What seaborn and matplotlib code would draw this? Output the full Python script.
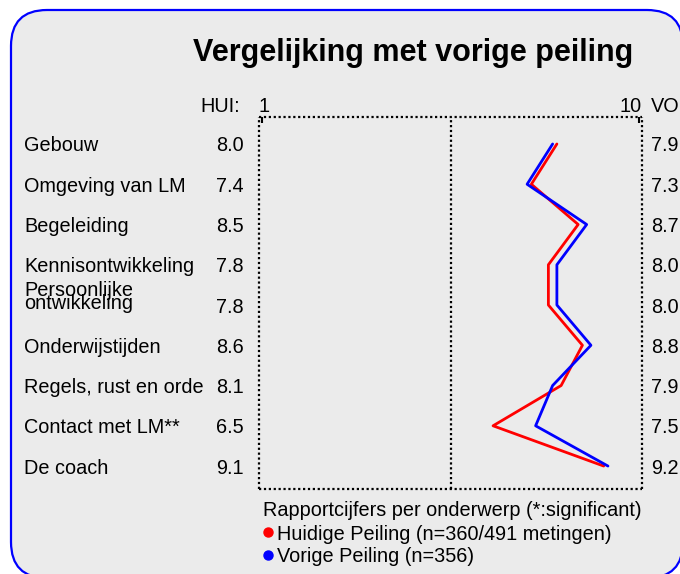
import matplotlib
matplotlib.use("Agg")
import matplotlib.pyplot as plt
from matplotlib.patches import FancyBboxPatch
from matplotlib.transforms import blended_transform_factory
import seaborn as sns
import pandas as pd

# data
categories = ["Gebouw", "Omgeving van LM", "Begeleiding", "Kennisontwikkeling",
              "Persoonlijke\nontwikkeling", "Onderwijstijden", "Regels, rust en orde",
              "Contact met LM**", "De coach"]
hui = [8.0, 7.4, 8.5, 7.8, 7.8, 8.6, 8.1, 6.5, 9.1]
vorige = [7.9, 7.3, 8.7, 8.0, 8.0, 8.8, 7.9, 7.5, 9.2]
series_names = ["Huidige Peiling (n=360/491 metingen)", "Vorige Peiling (n=356)"]
series_colors = ["#ff0000", "#0000ff"]

sns.set_style("white")
plt.rcParams["font.family"] = ["Liberation Sans", "DejaVu Sans"]
plt.rcParams["text.color"] = "black"

W, H = 680, 574
fig = plt.figure(figsize=(W / 100, H / 100), dpi=100)
fig.patch.set_facecolor("white")

# rounded panel behind everything (inches)
panel = FancyBboxPatch((0.11, -0.04), 6.72, 5.68,
                       boxstyle="round,pad=0,rounding_size=0.36",
                       transform=fig.dpi_scale_trans, facecolor="#ebebeb",
                       edgecolor="#0000ff", linewidth=1.6, zorder=-5)
fig.patches.append(panel)

def fx(px):
    return px / W

def fy(py):
    return 1 - py / H

ax = fig.add_axes([fx(259), fy(489), fx(642) - fx(259), fy(117) - fy(489)])
ax.set_facecolor("none")
ax.set_zorder(2)

rows = list(range(len(categories)))
df = pd.DataFrame({
    "score": hui + vorige,
    "pos": rows + rows,
    "peiling": [series_names[0]] * len(rows) + [series_names[1]] * len(rows),
})
sns.lineplot(data=df, x="score", y="pos", hue="peiling", hue_order=series_names,
             palette=dict(zip(series_names, series_colors)), sort=False,
             estimator=None, linewidth=2.0, legend=False, ax=ax)

ax.set_xlim(1, 10)
ax.set_ylim(8.57, -0.67)
dots = (0, (1, 1.2))
ax.axvline(5.5, color="black", linestyle=dots, linewidth=1.6, dash_capstyle="butt")
for s in ax.spines.values():
    s.set_visible(True)
    s.set_color("black")
    s.set_linestyle(dots)
    s.set_linewidth(1.6)
    s.set_capstyle("butt")
ax.set_xlabel("")
ax.set_ylabel("")
ax.set_yticks([])
ax.set_xticks([1.08, 9.92])
ax.tick_params(axis="x", top=True, bottom=False, labeltop=False, labelbottom=False,
               direction="in", length=4, width=1.5, color="black")

fs = 14.3
va = "center_baseline"
# axis end labels
top = blended_transform_factory(ax.transData, fig.transFigure)
ax.text(1, fy(104), "1", transform=top, ha="left", va=va, fontsize=fs)
ax.text(10, fy(104), "10", transform=top, ha="right", va=va, fontsize=fs)
fig.text(fx(240), fy(104), "HUI:", ha="right", va=va, fontsize=fs)
fig.text(fx(651), fy(104), "VO", ha="left", va=va, fontsize=fs)

# row labels and values
rt = blended_transform_factory(fig.transFigure, ax.transData)
for i, (cat, h, v) in enumerate(zip(categories, hui, vorige)):
    two_lines = "\n" in cat
    ax.text(fx(24), i - 0.2 if two_lines else i, cat, transform=rt, ha="left",
            va="center" if two_lines else va,
            fontsize=fs, linespacing=0.62, clip_on=False)
    ax.text(fx(244), i, f"{h:.1f}", transform=rt, ha="right", va=va,
            fontsize=fs, clip_on=False)
    ax.text(fx(651), i, f"{v:.1f}", transform=rt, ha="left", va=va,
            fontsize=fs, clip_on=False)

# title
fig.text(fx(413), fy(50), "Vergelijking met vorige peiling", ha="center", va=va,
         fontsize=22, fontweight="bold")

# legend
fig.text(fx(263), fy(509), "Rapportcijfers per onderwerp (*:significant)",
         ha="left", va=va, fontsize=fs)
for k, (name, col) in enumerate(zip(series_names, series_colors)):
    yy = fy(532 + 23 * k)
    fig.lines.append(plt.Line2D([fx(268)], [yy], marker="o", markersize=6.5,
                                color=col, transform=fig.transFigure))
    fig.text(fx(277), yy, name, ha="left", va=va, fontsize=fs)

fig.savefig("out.png", dpi=100)
